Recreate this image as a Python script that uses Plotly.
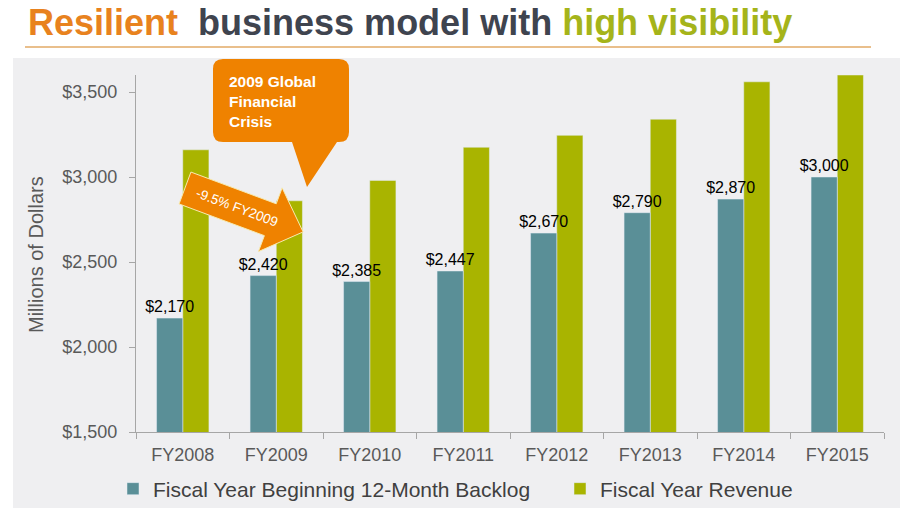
import math
import plotly.graph_objects as go

years = ['FY2008', 'FY2009', 'FY2010', 'FY2011', 'FY2012', 'FY2013', 'FY2014', 'FY2015']
backlog = [2170, 2420, 2385, 2447, 2670, 2790, 2870, 3000]
revenue = [3160, 2860, 2980, 3175, 3245, 3340, 3560, 3600]
ytick_vals = [1500, 2000, 2500, 3000, 3500]
ytick_text = ['$1,500', '$2,000', '$2,500', '$3,000', '$3,500']
backlog_text = ['$2,170', '$2,420', '$2,385', '$2,447', '$2,670', '$2,790', '$2,870', '$3,000']

TEAL = '#5A8F97'
OLIVE = '#A9B400'
ORANGE = '#EF8200'
FONT = 'Liberation Sans'

FW, FH = 900, 508
X0, X1, Y0, Y1 = 136, 884, 75, 432   # plot box in page pixels
PW, PH = X1 - X0, Y1 - Y0


def px(x):
    return (x - X0) / PW


def py(y):
    return (Y1 - y) / PH


def path(points):
    return 'M ' + ' L '.join(f'{px(x):.5f},{py(y):.5f}' for x, y in points) + ' Z'


BW = 0.28  # bar width in category units
fig = go.Figure()
fig.add_trace(go.Bar(
    x=years, y=revenue, name='Fiscal Year Revenue', marker_color=OLIVE,
    width=BW, offset=0, legend='legend2',
))
fig.add_trace(go.Bar(
    x=years, y=backlog, name='Fiscal Year Beginning 12-Month Backlog',
    marker_color=TEAL, width=BW, offset=-BW,
    text=backlog_text, textposition='outside', constraintext='none', cliponaxis=False,
    textfont=dict(family=FONT, size=16, color='black'), legend='legend',
))

# callout bubble with tail
r = 10
bx0, bx1, by0, by1 = 213, 349, 59, 142
bubble = (
    f'M {px(bx0 + r):.5f},{py(by0):.5f} L {px(bx1 - r):.5f},{py(by0):.5f} '
    f'Q {px(bx1):.5f},{py(by0):.5f} {px(bx1):.5f},{py(by0 + r):.5f} '
    f'L {px(bx1):.5f},{py(by1 - r):.5f} '
    f'Q {px(bx1):.5f},{py(by1):.5f} {px(bx1 - r):.5f},{py(by1):.5f} '
    f'L {px(337):.5f},{py(by1):.5f} L {px(307):.5f},{py(187):.5f} L {px(292):.5f},{py(by1):.5f} '
    f'L {px(bx0 + r):.5f},{py(by1):.5f} '
    f'Q {px(bx0):.5f},{py(by1):.5f} {px(bx0):.5f},{py(by1 - r):.5f} '
    f'L {px(bx0):.5f},{py(by0 + r):.5f} '
    f'Q {px(bx0):.5f},{py(by0):.5f} {px(bx0 + r):.5f},{py(by0):.5f} Z'
)

# tilted block arrow
ox, oy, ang = 185, 188, math.radians(20.4)
c, s = math.cos(ang), math.sin(ang)
local = [(0, -17), (91, -17), (91, -34), (126, 0), (91, 34), (91, 17), (0, 17)]
arrow_pts = [(ox + a * c - p * s, oy + a * s + p * c) for a, p in local]

shapes = [
    dict(type='rect', xref='paper', yref='paper', x0=px(13), x1=px(905), y0=py(58), y1=py(512),
         fillcolor='#EFEFF1', line_width=0, layer='below'),
    dict(type='line', xref='paper', yref='paper', x0=px(25), x1=px(871), y0=py(47), y1=py(47),
         line=dict(color='#E2AA66', width=1.5)),
    dict(type='path', xref='paper', yref='paper', path=bubble, fillcolor=ORANGE, line_width=0),
    dict(type='path', xref='paper', yref='paper', path=path(arrow_pts), fillcolor=ORANGE,
         line=dict(color='#F7EBB0', width=1)),
]

annotations = [
    dict(xref='paper', yref='paper', x=px(26), y=py(22), xanchor='left', yanchor='middle',
         showarrow=False, font=dict(family=FONT, size=36),
         text="<b><span style='color:#E8821E'>Resilient</span>  "
              "<span style='color:#3F444F'>business model with</span> "
              "<span style='color:#A5B41A'>high visibility</span></b>"),
    dict(xref='paper', yref='paper', x=px(227), y=py(102), xanchor='left', yanchor='middle',
         showarrow=False, align='left', font=dict(family=FONT, size=15.5, color='white'),
         text='<b>2009 Global<br>Financial<br>Crisis</b>'),
    dict(xref='paper', yref='paper', x=px(237), y=py(207), xanchor='center', yanchor='middle',
         showarrow=False, textangle=20.4, font=dict(family=FONT, size=13.5, color='white'),
         text='-9.5% FY2009'),
    dict(xref='paper', yref='paper', x=px(36), y=py(255), xanchor='center', yanchor='middle',
         showarrow=False, textangle=-90, font=dict(family=FONT, size=20, color='#595959'),
         text='Millions of Dollars'),
]

legend_style = dict(orientation='h', yanchor='middle', xanchor='left', bgcolor='rgba(0,0,0,0)',
                    font=dict(family=FONT, size=21, color='#404040'))

fig.update_layout(
    width=FW, height=FH,
    margin=dict(l=X0, r=FW - X1, t=Y0, b=FH - Y1, autoexpand=False),
    paper_bgcolor='white', plot_bgcolor='rgba(0,0,0,0)',
    barmode='overlay', showlegend=True,
    font=dict(family=FONT, color='#595959'),
    shapes=shapes, annotations=annotations,
    legend=dict(x=px(113), y=py(489), **legend_style),
    legend2=dict(x=px(560), y=py(489), **legend_style),
    xaxis=dict(showline=True, linecolor='#A6A6A6', ticks='outside', tickson='boundaries',
               ticklen=6, tickcolor='#A6A6A6', tickfont=dict(size=18, color='#595959'),
               ticklabelstandoff=6, showgrid=False),
    yaxis=dict(range=[1500, 3600], tickvals=ytick_vals, ticktext=ytick_text,
               showline=True, linecolor='#A6A6A6', ticks='outside',
               ticklen=6, tickcolor='#A6A6A6', tickfont=dict(size=18, color='#595959'),
               ticklabelstandoff=8, showgrid=False, zeroline=False),
)

# drop the default 8px page margin so the figure fills the window
fig.write_html('out.html', config={'displayModeBar': False},
               post_script="document.body.style.margin='0';")
